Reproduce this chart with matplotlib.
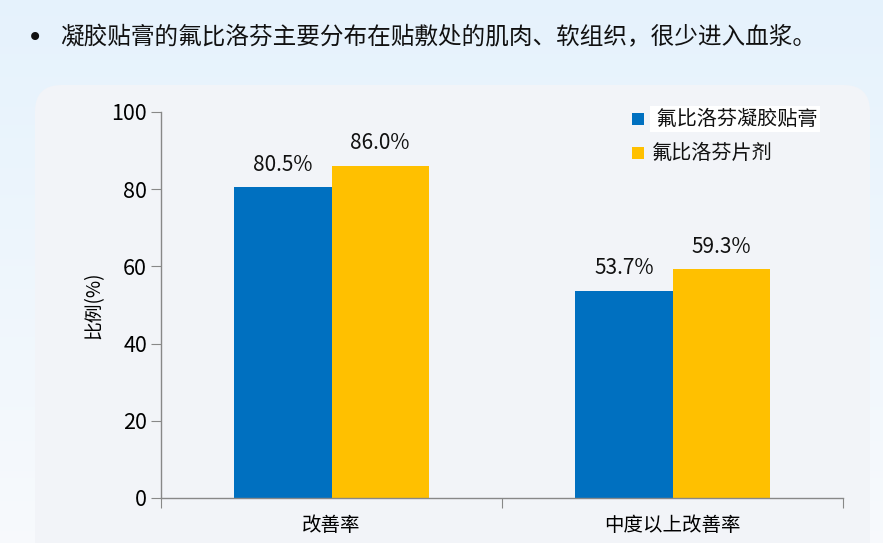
import matplotlib
matplotlib.use("Agg")
import matplotlib.pyplot as plt
import numpy as np
from matplotlib.patches import FancyBboxPatch

plt.rcParams['font.family'] = ['Noto Sans CJK SC', 'DejaVu Sans']

categories = ["改善率", "中度以上改善率"]
series_names = ["氟比洛芬凝胶贴膏", "氟比洛芬片剂"]
gel_values = [80.5, 53.7]
tablet_values = [86.0, 59.3]
yticks = [0, 20, 40, 60, 80, 100]
title_text = "凝胶贴膏的氟比洛芬主要分布在贴敷处的肌肉、软组织，很少进入血浆。"
ylabel_text = "比例(%)"

colors = ["#0070C0", "#FFC000"]

W, H = 883, 543
fig = plt.figure(figsize=(W / 100, H / 100), dpi=100)

# background gradient
bg = fig.add_axes([0, 0, 1, 1], zorder=-10)
grad = np.linspace(0, 1, 256).reshape(-1, 1)
top = np.array([0.90, 0.95, 0.99])
bot = np.array([0.97, 0.98, 0.99])
img = top[None, None, :] * (1 - grad[:, :, None]) + bot[None, None, :] * grad[:, :, None]
bg.imshow(img, aspect='auto', extent=[0, 1, 0, 1], origin='upper')
bg.set_xlim(0, 1)
bg.set_ylim(0, 1)
bg.axis('off')

# rounded panel
panel = FancyBboxPatch((35 / W, -0.1), (870 - 35) / W, (543 - 85) / H + 0.1,
                       boxstyle="round,pad=0,rounding_size=0.03",
                       transform=bg.transAxes, facecolor="#F2F4F8",
                       edgecolor="none", mutation_aspect=W / H)
bg.add_patch(panel)

# title bullet
fig.text(27 / W, 1 - 38 / H, "•", fontsize=20, va='center', ha='left', color='#111111',
         family='DejaVu Sans')
fig.text(60 / W, 1 - 38 / H, title_text, fontsize=17, va='center', ha='left', color='#111111')

# main axes
left, right, bottom_px, top_px = 161, 843, 498, 112
ax = fig.add_axes([left / W, 1 - bottom_px / H, (right - left) / W, (bottom_px - top_px) / H])
ax.patch.set_alpha(0)

x = np.arange(len(categories)) + 0.5
w = 0.285
b1 = ax.bar(x - w / 2, gel_values, w, color=colors[0], label=series_names[0])
b2 = ax.bar(x + w / 2, tablet_values, w, color=colors[1], label=series_names[1])
for bars, vals in ((b1, gel_values), (b2, tablet_values)):
    for rect, v in zip(bars, vals):
        ax.text(rect.get_x() + rect.get_width() / 2, v + 3, f"{v:.1f}%",
                ha='center', va='bottom', fontsize=15, color='#111111')

ax.set_xlim(0, len(categories))
ax.set_ylim(0, 100)
ax.set_yticks(yticks)
ax.set_yticklabels([str(t) for t in yticks], fontsize=15.5)
ax.set_xticks(np.arange(len(categories) + 1))
ax.set_xticklabels([])
ax.set_xticks(x, minor=True)
ax.set_xticklabels(categories, minor=True, fontsize=14)
ax.tick_params(axis='x', which='minor', length=0, pad=12)
ax.tick_params(axis='x', which='major', length=7, color='#888888', direction='out')
ax.tick_params(axis='y', length=7, color='#888888', direction='out', pad=3)
for s in ['top', 'right']:
    ax.spines[s].set_visible(False)
for s in ['left', 'bottom']:
    ax.spines[s].set_color('#888888')
    ax.spines[s].set_linewidth(1)
ax.set_ylabel(ylabel_text, fontsize=13.5, labelpad=5)

# legend
leg_items = [(series_names[0], colors[0], 119), (series_names[1], colors[1], 153)]
for i, (name, c, ypx) in enumerate(leg_items):
    fig.patches.append(plt.Rectangle((632 / W, 1 - (ypx + 6) / H), 12 / W, 12 / H,
                                     transform=fig.transFigure, facecolor=c, edgecolor='none'))
    if i == 0:
        fig.text(652 / W, 1 - ypx / H, " " + name, fontsize=14.5, va='center', ha='left',
                 color='#111111',
                 bbox=dict(facecolor='white', edgecolor='none', pad=1.5))
    else:
        fig.text(652 / W, 1 - ypx / H, name, fontsize=14.5, va='center', ha='left', color='#111111')

fig.savefig("out.png", dpi=100)
